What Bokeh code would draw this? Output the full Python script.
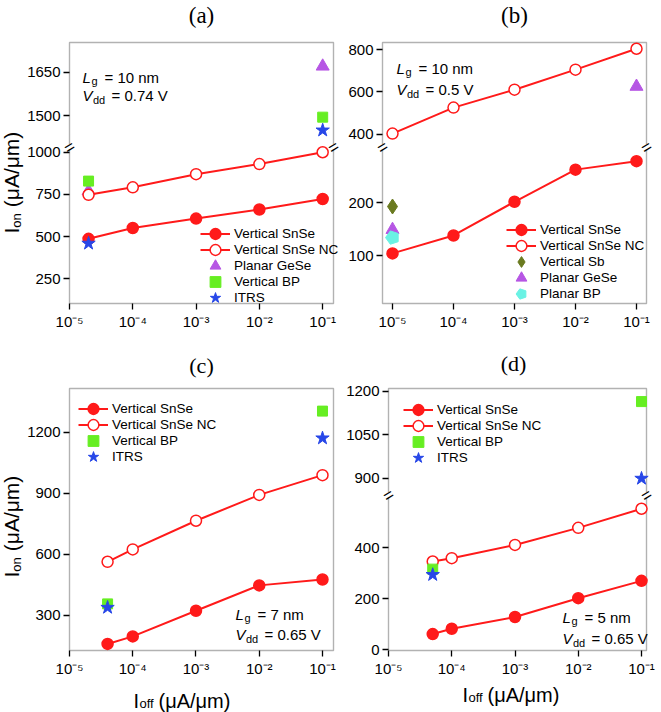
import math
from bokeh.plotting import figure
from bokeh.layouts import column, row
from bokeh.models import (Range1d, FixedTicker, Label, Legend, LegendItem,
                          CustomJSTickFormatter, BoxAnnotation)
from bokeh.embed import file_html
from bokeh.resources import INLINE

# ---------------- data ----------------
x_ticks = [1e-5, 1e-4, 1e-3, 1e-2, 1e-1]
x_tick_labels = ["10⁻⁵", "10⁻⁴", "10⁻³", "10⁻²", "10⁻¹"]

# (a) Lg = 10 nm, Vdd = 0.74 V
a_x = [2e-5, 1e-4, 1e-3, 1e-2, 1e-1]
a_snse = [487, 551, 607, 661, 723]
a_snse_nc = [748, 792, 870, 930, 1000]
a_gese_x = [2e-5, 1e-1]
a_gese = [770, 1670]
a_bp_x = [2e-5, 1e-1]
a_bp = [829, 1495]
a_itrs_x = [2e-5, 1e-1]
a_itrs = [460, 1450]
a_yticks_low = [250, 500, 750, 1000]
a_yticks_up = [1500, 1650]

# (b) Lg = 10 nm, Vdd = 0.5 V
b_x = [1e-5, 1e-4, 1e-3, 1e-2, 1e-1]
b_snse = [104, 138, 202, 263, 279]
b_snse_nc = [403, 526, 611, 706, 805]
b_sb_x = [1e-5]
b_sb = [193]
b_gese_x = [1e-5, 1e-1]
b_gese = [149, 626]
b_pbp_x = [1e-5]
b_pbp = [134]
b_yticks_low = [100, 200]
b_yticks_up = [400, 600, 800]

# (c) Lg = 7 nm, Vdd = 0.65 V
c_x = [4e-5, 1e-4, 1e-3, 1e-2, 1e-1]
c_snse = [159, 196, 322, 447, 476]
c_snse_nc = [563, 624, 765, 892, 989]
c_bp_x = [4e-5, 1e-1]
c_bp = [356, 1304]
c_itrs_x = [4e-5, 1e-1]
c_itrs = [338, 1171]
c_yticks = [300, 600, 900, 1200]

# (d) Lg = 5 nm, Vdd = 0.65 V
d_x = [5e-5, 1e-4, 1e-3, 1e-2, 1e-1]
d_snse = [62, 83, 129, 203, 271]
d_snse_nc = [347, 360, 412, 479, 554]
d_bp_x = [5e-5, 1e-1]
d_bp = [317, 1164]
d_itrs_x = [5e-5, 1e-1]
d_itrs = [295, 899]
d_yticks_low = [0, 200, 400]
d_yticks_up = [900, 1050, 1200]

# ---------------- style ----------------
FONT = "Liberation Sans"
SERIF = "Liberation Serif"
RED = "#ff1a1a"
PURPLE = "#b656e4"
GREEN = "#66ee22"
BLUE = "#2747e8"
OLIVE = "#6a7a20"
CYAN = "#6af2e4"
INSET = 6  # real bokeh frame extends this far beyond the drawn box


def make_panel(geo, xlog, low, up, yb, low_ticks, up_ticks):
    d = INSET
    fl, fr, ft, fbot = geo["fl"], geo["fr"], geo["ft"], geo["fbot"]
    x0, y0, w, h = geo["x0"], geo["y0"], geo["w"], geo["h"]
    geo["rl"], geo["rb"] = fl - d, fbot + d
    xa, xb = xlog
    dx = d * (xb - xa) / (fr - fl)
    lo0, lo1 = low
    sl = (lo1 - lo0) / (fbot - yb)
    ystart = lo0 - d * sl
    yend = ystart + (fbot - ft + 2 * d) * sl
    p = figure(width=w, height=h, x_axis_type="log",
               x_range=Range1d(10 ** (xa - dx), 10 ** (xb + dx)),
               y_range=Range1d(ystart, yend),
               output_backend="svg", toolbar_location=None,
               min_border_left=(fl - d) - x0, min_border_right=(x0 + w) - (fr + d),
               min_border_top=(ft - d) - y0, min_border_bottom=(y0 + h) - (fbot + d))
    tick_pos = [float(v) for v in low_ticks]
    tick_lab = [str(v) for v in low_ticks]
    if up is not None:
        u0, u1 = up
        su = (u1 - u0) / (yb - ft)
        uend = u1 + d * su
        ustart = uend - (fbot - ft + 2 * d) * su
        p.extra_y_ranges = {"up": Range1d(ustart, uend)}
        for v in up_ticks:
            tick_pos.append(ystart + (v - ustart) / su * sl)
            tick_lab.append(str(v))
    p.xgrid.visible = False
    p.ygrid.visible = False
    p.outline_line_color = None
    p.background_fill_color = "white"
    p.border_fill_color = "white"
    # drawn frame box
    p.add_layout(BoxAnnotation(left=d, right=d + fr - fl, bottom=d, top=d + fbot - ft,
                               left_units="screen", right_units="screen",
                               bottom_units="screen", top_units="screen",
                               fill_alpha=0, line_color="black", line_width=1.4,
                               level="underlay"))

    xa_ = p.xaxis[0]
    xa_.ticker = FixedTicker(ticks=x_ticks, minor_ticks=[])
    xa_.formatter = CustomJSTickFormatter(args=dict(t=x_ticks, labs=x_tick_labels), code="""
        for (let i = 0; i < t.length; i++) {
            if (Math.abs(Math.log10(t[i]) - Math.log10(tick)) < 1e-6) return labs[i];
        }
        return "";
    """)
    xa_.major_label_standoff = 3
    ya_ = p.yaxis[0]
    ya_.ticker = FixedTicker(ticks=tick_pos, minor_ticks=[])
    ya_.formatter = CustomJSTickFormatter(args=dict(t=tick_pos, labs=tick_lab), code="""
        for (let i = 0; i < t.length; i++) {
            if (Math.abs(t[i] - tick) < 1e-6 * Math.max(1, Math.abs(tick))) return labs[i];
        }
        return "";
    """)
    ya_.major_label_standoff = 3
    for ax in (xa_, ya_):
        ax.axis_line_color = None
        ax.major_tick_line_color = "black"
        ax.major_tick_line_width = 1.3
        ax.major_tick_in = d
        ax.major_tick_out = 0
        ax.minor_tick_line_color = None
        ax.major_label_text_font = FONT
        ax.major_label_text_font_size = "15px"
        ax.major_label_text_color = "black"
    if up is not None:
        brk(p, geo, yb)
    return p, lo1


def strip(x0, y0, w, h):
    p = figure(width=w, height=h, x_range=Range1d(0, 1), y_range=Range1d(0, 1),
               output_backend="svg", toolbar_location=None,
               x_axis_location=None, y_axis_location=None,
               min_border_left=0, min_border_right=0, min_border_top=0, min_border_bottom=0)
    p.xgrid.visible = False
    p.ygrid.visible = False
    p.outline_line_color = None
    p.border_fill_color = "white"
    p.background_fill_color = "white"
    return p, dict(rl=x0, rb=y0 + h)


def txt(p, geo, x, y, text, size, style="normal", align="left", baseline="alphabetic",
        angle=0.0, color="black", font=FONT):
    p.add_layout(Label(x=x - geo["rl"], y=geo["rb"] - y, x_units="screen", y_units="screen",
                       text=text, text_font=font, text_font_size=f"{size}px",
                       text_font_style=style, text_align=align, text_baseline=baseline,
                       angle=angle, text_color=color))


def brk(p, geo, y):
    for x in (geo["fl"], geo["fr"]):
        sx, sy = x - geo["rl"], geo["rb"] - y
        p.add_layout(BoxAnnotation(left=sx - 1.6, right=sx + 1.6, bottom=sy - 2.6, top=sy + 2.6,
                                   left_units="screen", right_units="screen",
                                   bottom_units="screen", top_units="screen",
                                   fill_color="white", fill_alpha=1, line_color=None))
        txt(p, geo, x, y + 1, "=", 17, align="center", baseline="middle", angle=0.55)


def pts(p, xs, ys, lim, **kw):
    lx = [x for x, y in zip(xs, ys) if y <= lim]
    ly = [y for y in ys if y <= lim]
    ux = [x for x, y in zip(xs, ys) if y > lim]
    uy = [y for y in ys if y > lim]
    rs = []
    if lx:
        rs.append(p.scatter(lx, ly, **kw))
    if ux:
        rs.append(p.scatter(ux, uy, y_range_name="up", **kw))
    return rs


def series(p, xs, ys, filled, y_range_name="default"):
    ln = p.line(xs, ys, line_color=RED, line_width=2, y_range_name=y_range_name)
    sc = p.scatter(xs, ys, size=11, marker="circle", line_color=RED, line_width=1.5,
                   fill_color=RED if filled else "white", y_range_name=y_range_name)
    return [ln, sc]


def legend(p, geo, items, x, yrow1, pitch=16):
    gh = 27
    sp = 2 * pitch - gh
    for k, sub in enumerate((items[0::2], items[1::2])):
        n = len(sub)
        top = yrow1 + k * pitch - gh / 2
        height = n * gh + (n - 1) * sp
        lg = Legend(items=sub, location=(x - geo["rl"], geo["rb"] - (top + height)),
                    glyph_width=30, glyph_height=gh, label_height=gh, spacing=sp,
                    label_standoff=4, padding=0, margin=0, border_line_color=None,
                    background_fill_alpha=0, label_text_font=FONT,
                    label_text_font_size="13.5px", label_text_color="black")
        p.add_layout(lg)


def annot(p, geo, x, y1, y2, lg, vdd):
    txt(p, geo, x, y1, "L", 15, style="italic")
    txt(p, geo, x + 9, y1 + 3, "g", 11)
    txt(p, geo, x + 22, y1, "= " + lg, 15)
    txt(p, geo, x, y2, "V", 15, style="italic")
    txt(p, geo, x + 10.5, y2 + 4, "dd", 11)
    txt(p, geo, x + 29, y2, "= " + vdd, 15)


def ylabel(p, geo, xc, ys):
    # rotated pieces, each anchored at its own centre; text reads bottom -> top from ys
    big, small = 21, 13
    w_i = 0.278 * big
    w_on = 2 * 0.556 * small
    w_unit = 3.596 * big
    rot = math.pi / 2
    txt(p, geo, xc, ys - w_i / 2, "I", big, align="center", baseline="middle", angle=rot)
    txt(p, geo, xc + 4.5, ys - w_i - w_on / 2, "on", small, align="center", baseline="middle", angle=rot)
    txt(p, geo, xc, ys - w_i - w_on - 6 - w_unit / 2, "(μA/μm)", big, align="center",
        baseline="middle", angle=rot)


def xlabel(p, geo, x, y):
    txt(p, geo, x, y, "I", 20)
    txt(p, geo, x + 6, y + 3, "off", 13)
    txt(p, geo, x + 25, y, "(μA/μm)", 20)


# ---------------- panel (a) ----------------
ga = dict(x0=24, y0=30, w=318, h=310, fl=69, fr=333, ft=42, fbot=303)
pa, lima = make_panel(ga, (-5, -0.829), (104, 1034), (1394, 1752), 146, a_yticks_low, a_yticks_up)
ra_gese = pts(pa, a_gese_x, a_gese, lima, marker="triangle", size=13, fill_color=PURPLE, line_color=PURPLE)
ra_s = series(pa, a_x, a_snse, True)
ra_nc = series(pa, a_x, a_snse_nc, False)
ra_bp = pts(pa, a_bp_x, a_bp, lima, marker="square", size=10, fill_color=GREEN, line_color=GREEN)
ra_it = pts(pa, a_itrs_x, a_itrs, lima, marker="star", size=14, fill_color=BLUE, line_color=BLUE)
legend(pa, ga, [LegendItem(label="Vertical SnSe", renderers=ra_s),
                LegendItem(label="Vertical SnSe NC", renderers=ra_nc),
                LegendItem(label="Planar GeSe", renderers=[ra_gese[0]]),
                LegendItem(label="Vertical BP", renderers=[ra_bp[0]]),
                LegendItem(label="ITRS", renderers=[ra_it[0]])], 200, 233)
annot(pa, ga, 82, 77, 95, "10 nm", "0.74 V")

# ---------------- panel (b) ----------------
gb = dict(x0=342, y0=30, w=318, h=310, fl=382, fr=646, ft=42, fbot=303)
pb, limb = make_panel(gb, (-5.164, -0.836), (8.9, 306.9), (341.7, 834.6), 146, b_yticks_low, b_yticks_up)
rb_sb = pts(pb, b_sb_x, b_sb, limb, marker="diamond", size=15, fill_color=OLIVE, line_color=OLIVE)
rb_gese = pts(pb, b_gese_x, b_gese, limb, marker="triangle", size=13, fill_color=PURPLE, line_color=PURPLE)
if hasattr(pb, "ngon"):
    rb_pbp = [pb.ngon(x=b_pbp_x, y=b_pbp, radius=7, radius_units="screen", n=5, angle=math.pi / 2,
                      fill_color=CYAN, line_color=CYAN)]
else:
    rb_pbp = pts(pb, b_pbp_x, b_pbp, limb, marker="hex", size=13, fill_color=CYAN, line_color=CYAN)
rb_s = series(pb, b_x, b_snse, True)
rb_nc = series(pb, b_x, b_snse_nc, False, y_range_name="up")
legend(pb, gb, [LegendItem(label="Vertical SnSe", renderers=rb_s),
                LegendItem(label="Vertical SnSe NC", renderers=rb_nc),
                LegendItem(label="Vertical Sb", renderers=[rb_sb[0]]),
                LegendItem(label="Planar GeSe", renderers=[rb_gese[0]]),
                LegendItem(label="Planar BP", renderers=[rb_pbp[0]])], 506, 229)
annot(pb, gb, 396, 68, 89, "10 nm", "0.5 V")

# ---------------- panel (c) ----------------
gc = dict(x0=24, y0=378, w=318, h=304, fl=69, fr=333, ft=391, fbot=653)
pc, limc = make_panel(gc, (-5, -0.826), (126.4, 1400.8), None, 391, c_yticks, ())
rc_s = series(pc, c_x, c_snse, True)
rc_nc = series(pc, c_x, c_snse_nc, False)
rc_bp = pts(pc, c_bp_x, c_bp, 1e9, marker="square", size=10, fill_color=GREEN, line_color=GREEN)
rc_it = pts(pc, c_itrs_x, c_itrs, 1e9, marker="star", size=14, fill_color=BLUE, line_color=BLUE)
legend(pc, gc, [LegendItem(label="Vertical SnSe", renderers=rc_s),
                LegendItem(label="Vertical SnSe NC", renderers=rc_nc),
                LegendItem(label="Vertical BP", renderers=[rc_bp[0]]),
                LegendItem(label="ITRS", renderers=[rc_it[0]])], 78, 411)
annot(pc, gc, 235, 617, 637, "7 nm", "0.65 V")

# ---------------- panel (d) ----------------
gd = dict(x0=342, y0=378, w=318, h=304, fl=388, fr=646, ft=388, fbot=650)
pd, limd = make_panel(gd, (-5, -0.921), (-2.7, 603), (837.6, 1199), 494, d_yticks_low, d_yticks_up)
rd_s = series(pd, d_x, d_snse, True)
rd_nc = series(pd, d_x, d_snse_nc, False)
rd_bp = pts(pd, d_bp_x, d_bp, limd, marker="square", size=10, fill_color=GREEN, line_color=GREEN)
rd_it = pts(pd, d_itrs_x, d_itrs, limd, marker="star", size=14, fill_color=BLUE, line_color=BLUE)
legend(pd, gd, [LegendItem(label="Vertical SnSe", renderers=rd_s),
                LegendItem(label="Vertical SnSe NC", renderers=rd_nc),
                LegendItem(label="Vertical BP", renderers=[rd_bp[0]]),
                LegendItem(label="ITRS", renderers=[rd_it[0]])], 403, 409)
annot(pd, gd, 562, 617, 638, "5 nm", "0.65 V")

# ---------------- text strips ----------------
t1, gt1 = strip(0, 0, 660, 30)
txt(t1, gt1, 201, 15, "(a)", 23, align="center", baseline="middle", font=SERIF)
txt(t1, gt1, 514, 15, "(b)", 23, align="center", baseline="middle", font=SERIF)
t2, gt2 = strip(0, 340, 660, 38)
txt(t2, gt2, 201, 365, "(c)", 22, align="center", baseline="middle", font=SERIF)
txt(t2, gt2, 513, 363, "(d)", 22, align="center", baseline="middle", font=SERIF)
# the y-label strips share their plot frame with the neighbouring panel frame
yl1, gy1 = strip(0, 30, 24, 310)
gy1["rb"] = ga["rb"]
ylabel(yl1, gy1, 11, 233)
yl2, gy2 = strip(0, 378, 24, 304)
gy2["rb"] = gc["rb"]
ylabel(yl2, gy2, 11, 580)
xl, gx = strip(0, 682, 660, 30)
xlabel(xl, gx, 133, 700)
xlabel(xl, gx, 462, 694)

layout = column(t1, row(yl1, pa, pb), t2, row(yl2, pc, pd), xl)
open("out.html", "w").write(file_html(layout, INLINE))
